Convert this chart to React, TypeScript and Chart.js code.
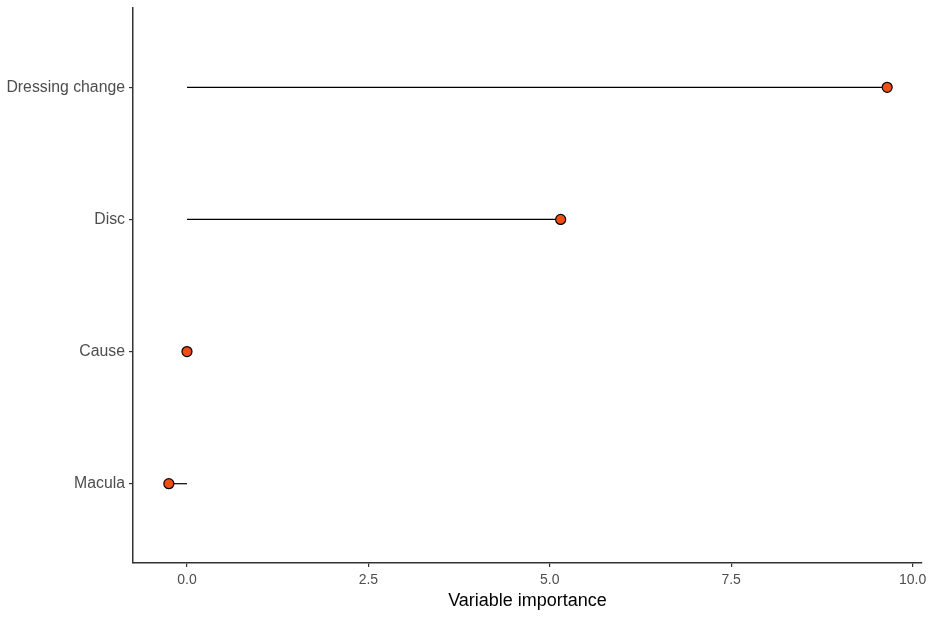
import React, { useEffect, useRef } from "react";
import { Chart, registerables } from "chart.js";

Chart.register(...registerables);

const categories = ["Macula", "Cause", "Disc", "Dressing change"];
const importance = [-0.25, 0, 5.15, 9.65];
const xTicks = [0, 2.5, 5, 7.5, 10];
const xTitle = "Variable importance";

export default function App() {
  const ref = useRef<HTMLCanvasElement | null>(null);
  useEffect(() => {
    const segDatasets = categories.map((c, i) => ({
      type: "line" as const,
      label: c + " seg",
      data: [
        { x: 0, y: i + 1 },
        { x: importance[i], y: i + 1 },
      ],
      borderColor: "#000000",
      borderWidth: 1.2,
      pointRadius: 0,
      showLine: true,
      fill: false,
      order: 2,
    }));
    const pointDataset = {
      type: "scatter" as const,
      label: "importance",
      data: categories.map((c, i) => ({ x: importance[i], y: i + 1 })),
      backgroundColor: "#F04E16",
      borderColor: "#000000",
      borderWidth: 1.2,
      pointRadius: 5,
      order: 1,
    };
    const font = "Liberation Sans, Arial, sans-serif";
    const chart = new Chart(ref.current!, {
      type: "scatter",
      data: { datasets: [...segDatasets, pointDataset] as any },
      options: {
        animation: false,
        responsive: false,
        maintainAspectRatio: false,
        layout: { padding: { top: 8, right: 13, left: 0, bottom: 0 } },
        plugins: { legend: { display: false }, tooltip: { enabled: false } },
        scales: {
          x: {
            type: "linear",
            min: -0.744,
            max: 10.13,
            afterBuildTicks: (s: any) => {
              s.ticks = xTicks.map((v) => ({ value: v }));
            },
            afterFit: (s: any) => {
              s.height = 54;
              s.paddingLeft = 0;
              s.paddingRight = 0;
            },
            ticks: {
              callback: (v: any) => Number(v).toFixed(1),
              color: "#4D4D4D",
              font: { family: font, size: 14 },
              padding: 5,
              maxRotation: 0,
              autoSkip: false,
            },
            grid: {
              drawOnChartArea: false,
              drawTicks: true,
              tickLength: 4,
              color: "#333333",
              lineWidth: 1.2,
            },
            border: { display: true, color: "#333333", width: 1.5 },
            title: {
              display: true,
              text: xTitle,
              color: "#000000",
              font: { family: font, size: 18 },
              padding: { top: 0, bottom: 5 },
            },
          },
          y: {
            type: "linear",
            min: 0.4,
            max: 4.6,
            afterBuildTicks: (s: any) => {
              s.ticks = categories.map((c, i) => ({ value: i + 1 }));
            },
            afterFit: (s: any) => {
              s.width = 133;
              s.paddingTop = 0;
              s.paddingBottom = 0;
            },
            ticks: {
              callback: (v: any) => categories[Math.round(Number(v)) - 1] ?? "",
              color: "#4D4D4D",
              font: { family: font, size: 15.8 },
              padding: 4,
              autoSkip: false,
            },
            grid: {
              drawOnChartArea: false,
              drawTicks: true,
              tickLength: 4,
              color: "#333333",
              lineWidth: 1.2,
            },
            border: { display: true, color: "#333333", width: 1.5 },
          },
        },
      },
    });
    return () => chart.destroy();
  }, []);
  return (
    <div style={{ position: "fixed", left: 0, top: 0, width: 935, height: 617, background: "#fff" }}>
      <canvas ref={ref} width={935} height={617} style={{ width: 935, height: 617, display: "block" }} />
    </div>
  );
}
